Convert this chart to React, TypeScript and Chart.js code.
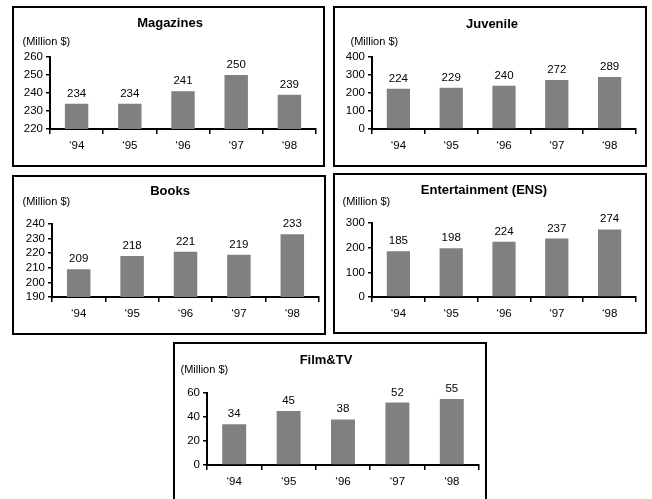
import React, { useEffect, useRef } from "react";
import { Chart, registerables } from "chart.js";

Chart.register(...registerables);

const CATEGORIES = ["\u201894", "\u201895", "\u201896", "\u201897", "\u201898"];
const UNIT_LABEL = "(Million $)";

const MAGAZINES_TITLE = "Magazines";
const MAGAZINES = [234, 234, 241, 250, 239];
const MAGAZINES_TICKS = [220, 230, 240, 250, 260];

const JUVENILE_TITLE = "Juvenile";
const JUVENILE = [224, 229, 240, 272, 289];
const JUVENILE_TICKS = [0, 100, 200, 300, 400];

const BOOKS_TITLE = "Books";
const BOOKS = [209, 218, 221, 219, 233];
const BOOKS_TICKS = [190, 200, 210, 220, 230, 240];

const ENS_TITLE = "Entertainment (ENS)";
const ENS = [185, 198, 224, 237, 274];
const ENS_TICKS = [0, 100, 200, 300];

const FILM_TITLE = "Film&TV";
const FILM = [34, 45, 38, 52, 55];
const FILM_TICKS = [0, 20, 40, 60];

const FONT = '"Liberation Sans", Arial, Helvetica, sans-serif';

type Layout = {
  left: number; top: number; width: number; height: number;
  padTop: number; padRight: number; padBottom: number; yWidth: number; xHeight: number;
  titleX: number; titleY: number; unitX: number; unitY: number;
};

type PanelDef = { title: string; values: number[]; ticks: number[]; layout: Layout };

const PANELS: PanelDef[] = [
  {
    title: MAGAZINES_TITLE, values: MAGAZINES, ticks: MAGAZINES_TICKS,
    layout: { left: 12, top: 6, width: 313, height: 161, padTop: 49, padRight: 7, padBottom: 14, yWidth: 36, xHeight: 22, titleX: 156, titleY: 15.5, unitX: 8.5, unitY: 34 },
  },
  {
    title: JUVENILE_TITLE, values: JUVENILE, ticks: JUVENILE_TICKS,
    layout: { left: 333, top: 6, width: 314, height: 161, padTop: 49, padRight: 9, padBottom: 14, yWidth: 37, xHeight: 22, titleX: 157, titleY: 16, unitX: 15.5, unitY: 34 },
  },
  {
    title: BOOKS_TITLE, values: BOOKS, ticks: BOOKS_TICKS,
    layout: { left: 12, top: 175, width: 314, height: 160, padTop: 47, padRight: 5, padBottom: 14, yWidth: 38, xHeight: 22, titleX: 156, titleY: 14, unitX: 8.5, unitY: 25 },
  },
  {
    title: ENS_TITLE, values: ENS, ticks: ENS_TICKS,
    layout: { left: 333, top: 173, width: 314, height: 161, padTop: 48, padRight: 9, padBottom: 13, yWidth: 37, xHeight: 22, titleX: 149, titleY: 15, unitX: 7.5, unitY: 27 },
  },
  {
    title: FILM_TITLE, values: FILM, ticks: FILM_TICKS,
    layout: { left: 173, top: 342, width: 314, height: 170, padTop: 49, padRight: 6, padBottom: 23, yWidth: 32, xHeight: 22, titleX: 151, titleY: 16, unitX: 5.5, unitY: 26 },
  },
];

const panelTextPlugin = {
  id: "panelText",
  afterDraw(chart: any, _args: any, opts: any) {
    const ctx = chart.ctx as CanvasRenderingContext2D;
    ctx.save();
    ctx.fillStyle = "#000";
    ctx.font = `bold 13px ${FONT}`;
    ctx.textAlign = "center";
    ctx.textBaseline = "middle";
    ctx.fillText(opts.title, opts.titleX, opts.titleY);
    ctx.font = `11px ${FONT}`;
    ctx.textAlign = "left";
    ctx.fillText(UNIT_LABEL, opts.unitX, opts.unitY);
    const meta = chart.getDatasetMeta(0);
    const data = chart.data.datasets[0].data as number[];
    ctx.font = `11.5px ${FONT}`;
    ctx.textAlign = "center";
    ctx.textBaseline = "alphabetic";
    meta.data.forEach((bar: any, i: number) => {
      ctx.fillText(String(data[i]), bar.x, bar.y - 7);
    });
    ctx.restore();
  },
};

function Panel({ def }: { def: PanelDef }) {
  const ref = useRef<HTMLCanvasElement | null>(null);
  const L = def.layout;
  const cw = L.width - 4;
  const ch = L.height - 4;
  useEffect(() => {
    if (!ref.current) return;
    const ticks = def.ticks;
    const chart = new Chart(ref.current, {
      type: "bar",
      data: {
        labels: CATEGORIES,
        datasets: [
          {
            data: def.values,
            backgroundColor: "#808080",
            borderWidth: 0,
            categoryPercentage: 1,
            barPercentage: 0.44,
          },
        ],
      },
      plugins: [panelTextPlugin as any],
      options: {
        responsive: false,
        animation: false,
        events: [],
        layout: { padding: { top: L.padTop, right: L.padRight, bottom: L.padBottom, left: 0 } },
        plugins: {
          legend: { display: false },
          tooltip: { enabled: false },
          title: { display: false },
          panelText: { title: def.title, titleX: L.titleX, titleY: L.titleY, unitX: L.unitX, unitY: L.unitY },
        } as any,
        scales: {
          x: {
            offset: true,
            grid: { offset: true, drawOnChartArea: false, drawTicks: true, tickLength: 5, color: "#000", lineWidth: 1.5 },
            border: { display: true, color: "#000", width: 2 },
            ticks: { color: "#000", font: { family: FONT, size: 11.5 }, padding: 5, maxRotation: 0, autoSkip: false },
            afterFit: (s: any) => { s.height = L.xHeight; },
          },
          y: {
            min: ticks[0],
            max: ticks[ticks.length - 1],
            afterBuildTicks: (s: any) => { s.ticks = ticks.map((v) => ({ value: v })); },
            grid: { drawOnChartArea: false, drawTicks: true, tickLength: 4, color: "#000", lineWidth: 1.5 },
            border: { display: true, color: "#000", width: 2 },
            ticks: {
              autoSkip: false,
              stepSize: ticks[1] - ticks[0],
              color: "#000",
              font: { family: FONT, size: 11.5 },
              padding: 3,
            },
            afterFit: (s: any) => { s.width = L.yWidth; },
          },
        },
      },
    });
    return () => chart.destroy();
  }, []);
  return (
    <div
      style={{
        position: "absolute",
        left: L.left,
        top: L.top,
        width: L.width,
        height: L.height,
        border: "2px solid #000",
        boxSizing: "border-box",
        background: "#fff",
        overflow: "hidden",
      }}
    >
      <canvas ref={ref} width={cw} height={ch} style={{ display: "block", width: cw, height: ch }} />
    </div>
  );
}

export default function App() {
  return (
    <div style={{ position: "absolute", left: 0, top: 0, width: 652, height: 499, background: "#fff", overflow: "hidden" }}>
      {PANELS.map((p) => (
        <Panel key={p.title} def={p} />
      ))}
    </div>
  );
}
